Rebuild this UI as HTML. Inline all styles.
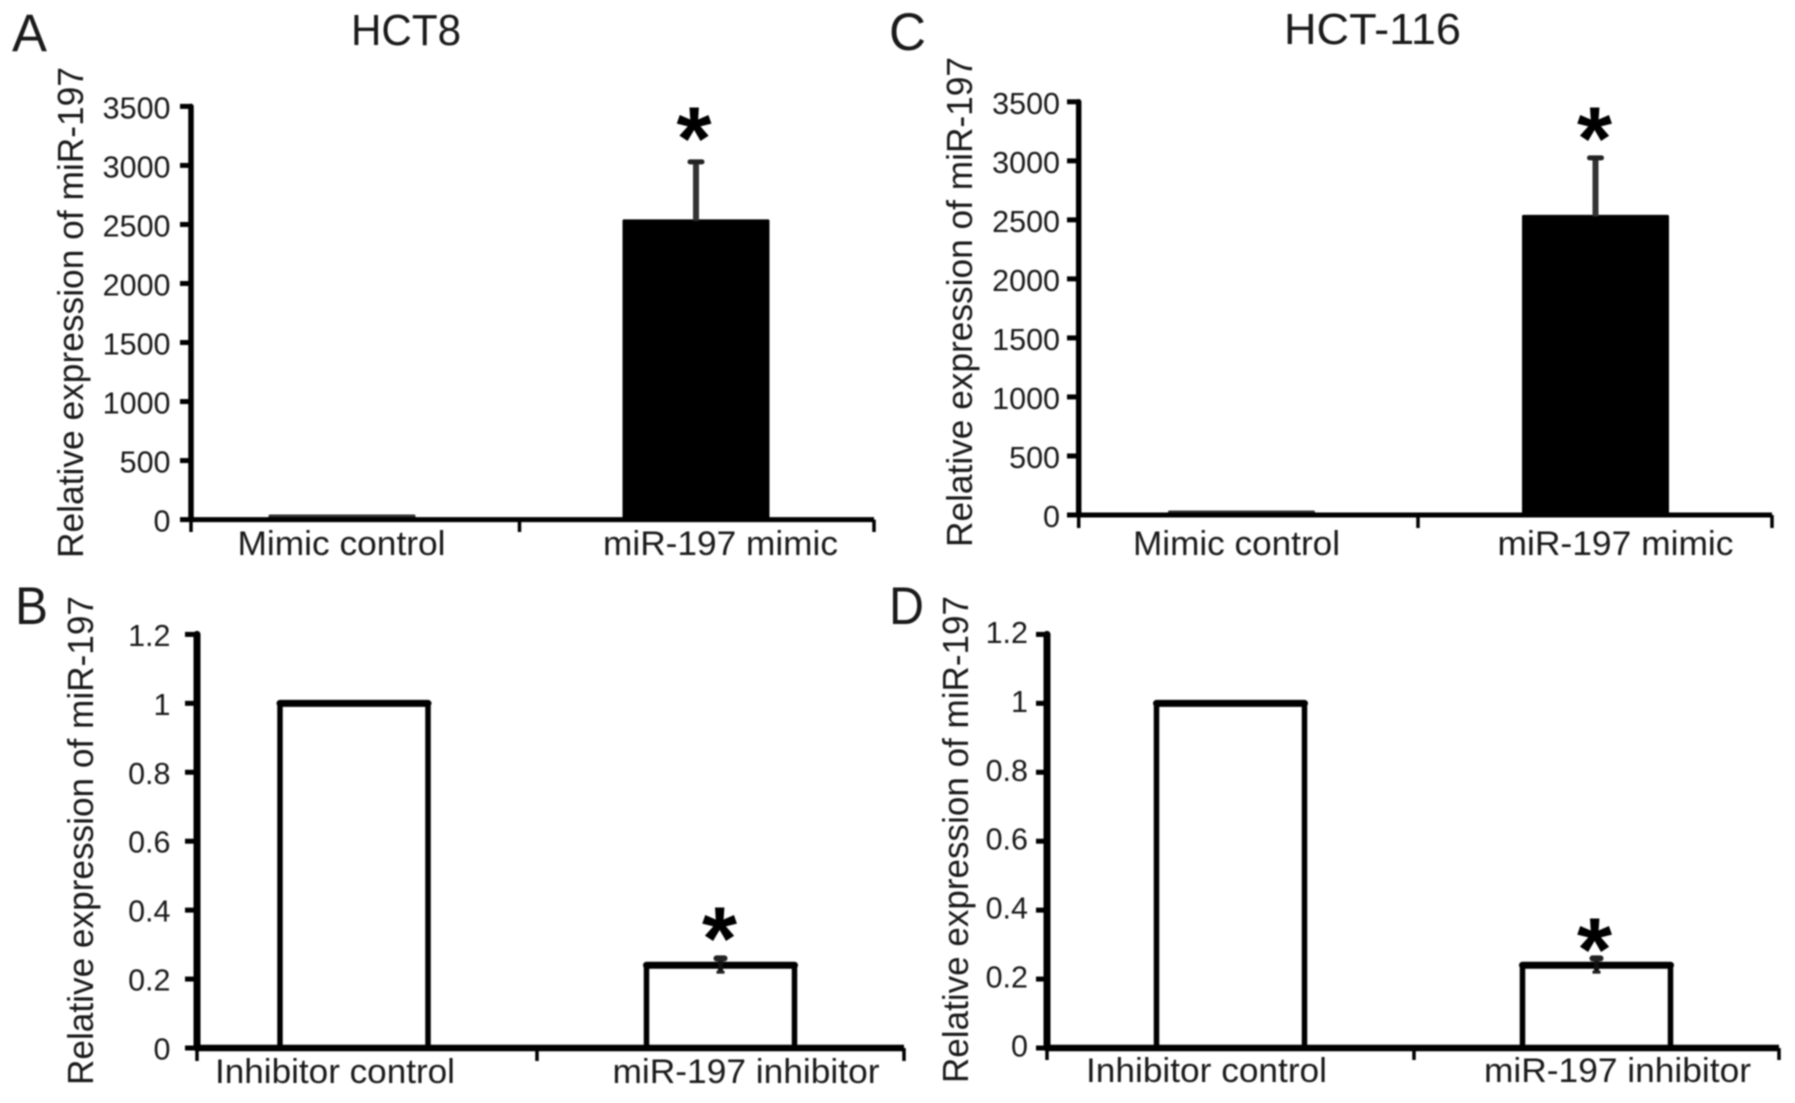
<!DOCTYPE html>
<html lang="en">
<head>
<meta charset="utf-8">
<title>Relative expression of miR-197 in HCT8 and HCT-116</title>
<style>
html,body{margin:0;padding:0;background:#fff;}
#figure{display:block;width:1795px;height:1103px;filter:blur(0.7px);}
text{font-family:"Liberation Sans",sans-serif;fill:#1a1a1a;}
</style>
</head>
<body>
<svg id="figure" xmlns="http://www.w3.org/2000/svg" width="1795" height="1103" viewBox="0 0 1795 1103">
  <rect x="0" y="0" width="1795" height="1103" fill="#fff"/>
  <text x="12" y="51" font-size="53" textLength="35" lengthAdjust="spacingAndGlyphs">A</text>
  <text x="15" y="624" font-size="53" textLength="33" lengthAdjust="spacingAndGlyphs">B</text>
  <text x="889" y="50" font-size="53" textLength="37" lengthAdjust="spacingAndGlyphs">C</text>
  <text x="889" y="624" font-size="53" textLength="35" lengthAdjust="spacingAndGlyphs">D</text>
  <text x="351" y="45" font-size="44" textLength="110" lengthAdjust="spacingAndGlyphs">HCT8</text>
  <text x="1284" y="44" font-size="44" textLength="177" lengthAdjust="spacingAndGlyphs">HCT-116</text>
  <text transform="translate(83,558) rotate(-90)" font-size="36" textLength="491" lengthAdjust="spacingAndGlyphs">Relative expression of miR-197</text>
  <text transform="translate(93,1085) rotate(-90)" font-size="36" textLength="489" lengthAdjust="spacingAndGlyphs">Relative expression of miR-197</text>
  <text transform="translate(972,547) rotate(-90)" font-size="36" textLength="490" lengthAdjust="spacingAndGlyphs">Relative expression of miR-197</text>
  <text transform="translate(968,1083) rotate(-90)" font-size="36" textLength="487" lengthAdjust="spacingAndGlyphs">Relative expression of miR-197</text>
  <g id="charts"></g>
</svg>
<script>
// ---- chart data ----
const mimicCategories = ["Mimic control", "miR-197 mimic"];
const inhibitorCategories = ["Inhibitor control", "miR-197 inhibitor"];
const mimicTickValues = [0, 500, 1000, 1500, 2000, 2500, 3000, 3500];
const mimicTickLabels = ["0", "500", "1000", "1500", "2000", "2500", "3000", "3500"];
const inhibitorTickValues = [0, 0.2, 0.4, 0.6, 0.8, 1, 1.2];
const inhibitorTickLabels = ["0", "0.2", "0.4", "0.6", "0.8", "1", "1.2"];
const hct8MimicValues = [30, 2530];
const hct8MimicErrors = [0, 500];
const hct8InhibitorValues = [1, 0.24];
const hct8InhibitorErrors = [0, 0.02];
const hct116MimicValues = [25, 2530];
const hct116MimicErrors = [0, 495];
const hct116InhibitorValues = [1, 0.24];
const hct116InhibitorErrors = [0, 0.02];
const significantFlags = [false, true];

// ---- layout ----
const panels = [
  {id:"a", categories:mimicCategories, values:hct8MimicValues, errors:hct8MimicErrors, ticks:mimicTickValues, tickLabels:mimicTickLabels, filled:true,
   axisX:191, axisEnd:874, midTick:519.5, top:106.4, zero:519.6, yMax:3500, barStart:342, barStep:354, barWidth:144, labelStart:341.5, labelStep:379, labelWidths:[208,235], labelY:555, tickRight:170.5, tickShift:1, tickSize:30.5, axisW:5.5, xAxisW:5, starDx:-2, starGap:7.5, xTickEnd:532, tickLeft:180},
  {id:"b", categories:inhibitorCategories, values:hct8InhibitorValues, errors:hct8InhibitorErrors, ticks:inhibitorTickValues, tickLabels:inhibitorTickLabels, filled:false,
   axisX:197, axisEnd:904, midTick:537, top:634.4, zero:1048, yMax:1.2, barStart:354, barStep:366.5, barWidth:148, labelStart:335, labelStep:411, labelWidths:[240,267], labelY:1083, tickRight:170.5, tickShift:0.5, tickSize:30.5, axisW:7, xAxisW:6.5, starDx:-1, starGap:11, xTickEnd:1061, tickLeft:185},
  {id:"c", categories:mimicCategories, values:hct116MimicValues, errors:hct116MimicErrors, ticks:mimicTickValues, tickLabels:mimicTickLabels, filled:true,
   axisX:1078.7, axisEnd:1772, midTick:1418, top:101.8, zero:515, yMax:3500, barStart:1241.5, barStep:354, barWidth:144, labelStart:1236.5, labelStep:379, labelWidths:[207,236], labelY:555, tickRight:1060, tickShift:1, tickSize:30.5, axisW:5.5, xAxisW:5, starDx:-1, starGap:11.5, xTickEnd:528, tickLeft:1067},
  {id:"d", categories:inhibitorCategories, values:hct116InhibitorValues, errors:hct116InhibitorErrors, ticks:inhibitorTickValues, tickLabels:inhibitorTickLabels, filled:false,
   axisX:1047, axisEnd:1779, midTick:1414, top:634.4, zero:1048, yMax:1.2, barStart:1230.5, barStep:366, barWidth:148, labelStart:1206.5, labelStep:411, labelWidths:[241,267], labelY:1082, tickRight:1028, tickShift:-2.5, tickSize:30.5, axisW:7, xAxisW:6.5, starDx:-2, starGap:22, xTickEnd:1060, tickLeft:1036}
];

const SVG_NS = "http://www.w3.org/2000/svg";
const root = document.getElementById("charts");

function make(tag, attrs, parent) {
  const node = document.createElementNS(SVG_NS, tag);
  for (const key in attrs) node.setAttribute(key, attrs[key]);
  parent.appendChild(node);
  return node;
}

panels.forEach(function (p) {
  const yScale = function (v) { return p.zero - (v / p.yMax) * (p.zero - p.top); };
  const xScale = function (i) { return p.barStart + i * p.barStep; };

  const g = make("g", {}, root);
  
  

  // bars, drawn first so the axis sits on top of their feet
  p.values.forEach(function (v, i) {
    const cx = xScale(i);
    const y = yScale(v);
    const small = p.filled && i === 0;
    const bar = make("rect", {
      x: cx - p.barWidth / 2,
      y: y,
      width: p.barWidth,
      height: Math.max(p.zero - y, 0),
      fill: p.filled ? (small ? "#333" : "#000") : "#fff",
      stroke: p.filled ? (small ? "#333" : "#000") : "#000",
      "stroke-width": p.filled ? 3 : 5.5,
      "stroke-linejoin": "round"
    }, g);
    
    

    if (!p.filled) {
      const barTop = make("line", {x1: cx - p.barWidth / 2, x2: cx + p.barWidth / 2, y1: y, y2: y, stroke: "#000", "stroke-width": 7, "stroke-linecap": "round"}, g);
      
      
    }

    const err = p.errors[i];
    if (err > 0) {
      const topY = yScale(v + err);
      const botY = p.filled ? y : yScale(v - err);
      const stem = make("line", {x1: cx, x2: cx, y1: topY, y2: botY, stroke: p.filled ? "#333" : "#111", "stroke-width": p.filled ? 6 : 5}, g);
      
      
      const cap = make("line", {x1: cx - (p.filled ? 6 : 4), x2: cx + (p.filled ? 6 : 4), y1: topY, y2: topY, stroke: "#222", "stroke-width": p.filled ? 5 : 6, "stroke-linecap": "round"}, g);
      
      
      if (!p.filled) {
        const lowCap = make("line", {x1: cx - 4, x2: cx + 4, y1: botY, y2: botY, stroke: "#222", "stroke-width": 3}, g);
        
        
      }
    }
    if (significantFlags[i]) {
      const star = make("text", {
        x: cx + p.starDx,
        y: yScale(v + err) + p.starGap,
        "font-size": 90,
        "font-weight": "bold",
        "text-anchor": "middle",
        style: "fill:#000"
      }, g);
      star.textContent = "*";
      
      
    }
  });

  // y axis
  const yAxis = make("line", {x1: p.axisX, x2: p.axisX, y1: p.top, y2: p.zero, stroke: "#000", "stroke-width": p.axisW, "stroke-linecap": "round"}, g);
  
  

  p.ticks.forEach(function (t, i) {
    const y = yScale(t);
    const tick = make("line", {x1: p.tickLeft, x2: p.axisX, y1: y, y2: y, stroke: "#000", "stroke-width": 5}, g);
    
    
    const label = make("text", {x: p.tickRight, y: y + 11 + p.tickShift, "font-size": p.tickSize, "text-anchor": "end"}, g);
    label.textContent = p.tickLabels[i];
    
    
  });

  // x axis
  const xAxis = make("line", {x1: p.axisX, x2: p.axisEnd, y1: p.zero, y2: p.zero, stroke: "#000", "stroke-width": p.xAxisW}, g);
  
  

  [p.axisX, p.midTick, p.axisEnd].forEach(function (x) {
    const tick = make("line", {x1: x, x2: x, y1: p.zero, y2: p.xTickEnd, stroke: "#000", "stroke-width": 3.5}, g);
    
    
  });

  p.categories.forEach(function (c, i) {
    const label = make("text", {
      x: p.labelStart + i * p.labelStep,
      y: p.labelY,
      "font-size": 34,
      "text-anchor": "middle",
      textLength: p.labelWidths[i],
      lengthAdjust: "spacingAndGlyphs"
    }, g);
    label.textContent = c;
    
    
  });
});
</script>
</body>
</html>
